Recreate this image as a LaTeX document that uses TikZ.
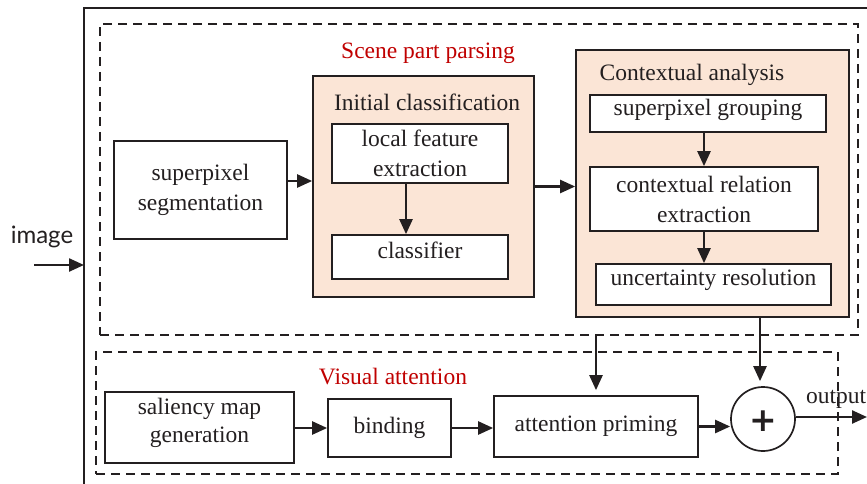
\documentclass[tikz,border=0pt]{standalone}
\usepackage{fontspec}
\setmainfont{Liberation Serif}
\newfontfamily\latofont{Lato}
\newfontfamily\plusfont{DejaVu Sans}
\newfontfamily\serifbody{Liberation Serif}
\usetikzlibrary{arrows.meta}
\definecolor{peach}{HTML}{FBE5D6}
\definecolor{titlered}{HTML}{C00000}
\definecolor{ink}{HTML}{231F20}
\begin{document}
\begin{tikzpicture}[x=1pt,y=-1pt,
  every node/.style={font=\serifbody\fontsize{23.5}{30}\selectfont},
  box/.style={draw=ink,line width=1.7pt,fill=white,align=center,inner sep=0pt,text=ink},
  groupbox/.style={draw=ink,line width=1.7pt,fill=peach,inner sep=0pt},
  dbox/.style={draw=ink,line width=1.5pt,dash pattern=on 9pt off 6pt,inner sep=0pt},
  arr/.style={draw=ink,line width=2.4pt,-{Triangle[length=15pt,width=13pt]}},
  redlabel/.style={text=titlered,inner sep=0pt},
  plain/.style={inner sep=0pt,text=ink}]
\useasboundingbox (0,0) rectangle (867,484);
% outer frame
\draw[ink,line width=1.4pt] (84,484) -- (84,8) -- (867,8);
% dashed groups
\node[dbox,minimum width=758pt,minimum height=311pt] (scene) at (479,179.5) {};
\node[dbox,minimum width=742pt,minimum height=122pt] (vis) at (467,413) {};
\node[redlabel] (scenelbl) at (428,53) {Scene part parsing};
\node[redlabel] (vislbl) at (393,377) {Visual attention};
% initial classification
\node[groupbox,minimum width=221pt,minimum height=221pt] (init) at (423.5,186.5) {};
\node[plain] (initlbl) at (427,102) {Initial classification};
\node[box,minimum width=176pt,minimum height=59pt] (lfe) at (420,153.5) {local feature\\extraction};
\node[box,minimum width=176pt,minimum height=44pt] (cls) at (420,257) {};
\node[plain] (clslbl) at (420,250) {classifier};
% contextual analysis
\node[groupbox,minimum width=273pt,minimum height=267pt] (ctx) at (712.5,183.5) {};
\node[plain] (ctxlbl) at (692,75) {Contextual analysis};
\node[box,minimum width=236pt,minimum height=37pt] (grp) at (708,113.5) {};
\node[plain] (grplbl) at (708,110) {superpixel grouping};
\node[box,minimum width=228pt,minimum height=64pt] (rel) at (704,199) {contextual relation\\extraction};
\node[box,minimum width=235pt,minimum height=41pt] (unc) at (713.5,284.5) {};
\node[plain] (unclbl) at (713.5,280) {uncertainty resolution};
% segmentation
\node[box,minimum width=173pt,minimum height=98pt] (seg) at (200.5,190) {superpixel\\segmentation};
% visual attention boxes
\node[box,minimum width=189pt,minimum height=71pt] (sal) at (199.5,427.5) {};
\node[plain,align=center,font=\serifbody\fontsize{23.5}{28}\selectfont] (sallbl) at (199.5,423) {saliency map\\generation};
\node[box,minimum width=123pt,minimum height=58pt] (bind) at (389.5,428) {binding};
\node[box,minimum width=204pt,minimum height=61pt] (att) at (596,426.5) {attention priming};
\node[draw=ink,line width=1.7pt,circle,minimum size=64pt,inner sep=0pt] (plus) at (763,419) {};
\node[plain,font=\plusfont\bfseries\fontsize{33}{33}\selectfont] (pluslbl) at (763,421) {+};
% image input
\node[plain,font=\latofont\fontsize{24}{24}\selectfont] (imglbl) at (42,237) {image};
\coordinate (imgstart) at (34,265);
\coordinate (imgend) at (84,265);
\draw[arr] (imgstart) -- (imgend);
% arrows
\draw[arr] (seg.east |- 0,181) -- (init.west |- 0,181);
\draw[arr] (init.east) -- (init.east -| ctx.west);
\draw[arr] ([xshift=-14pt]lfe.south) -- ([xshift=-14pt]cls.north);
\draw[arr] (grp.south -| rel.north) -- (rel.north);
\draw[arr] (rel.south) -- (rel.south |- unc.north);
\draw[arr,shorten >=5pt] ([xshift=-3pt]ctx.south -| plus.north) -- ([xshift=-3pt]plus.north);
\draw[arr,shorten >=5pt] (scene.south -| att.north) -- (att.north);
\draw[arr] (sal.east |- 0,428) -- (bind.west |- 0,428);
\draw[arr] (bind.east) -- (bind.east -| att.west);
\draw[arr] (att.east) -- (att.east -| plus.west);
\coordinate (outend) at (867,417);
\draw[arr] (plus.east |- outend) -- (outend);
\node[plain,anchor=west] (outlbl) at (806,399) {output};
\end{tikzpicture}
\end{document}
